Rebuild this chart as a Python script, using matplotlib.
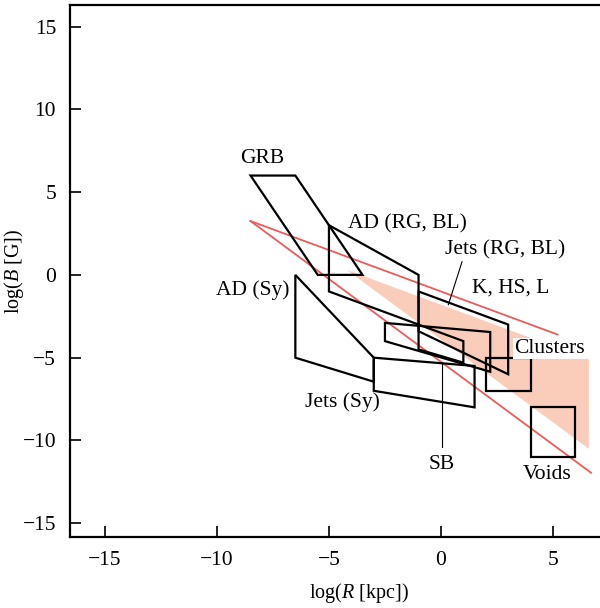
import numpy as np
import matplotlib.pyplot as plt
from matplotlib.patches import Polygon

plt.rcParams['font.family'] = ['Liberation Serif', 'DejaVu Serif']
plt.rcParams['mathtext.fontset'] = 'custom'
plt.rcParams['mathtext.rm'] = 'Liberation Serif'
plt.rcParams['mathtext.it'] = 'Liberation Serif:italic'

# regioner i (log R, log B)
grb_r = [-8.5, -6.5, -3.5, -5.5]
grb_b = [6, 6, 0, 0]
ad_rgbl_r = [-5, -1, -1, 1, 1, -5]
ad_rgbl_b = [3, 0, -4.5, -5.3, -4.0, -1]
ad_sy_r = [-6.5, -3, -3, -6.5]
ad_sy_b = [0, -5, -6.45, -5]
jets_sy_r = [-3, 1.5, 1.5, -3]
jets_sy_b = [-5, -5.5, -8, -7]
jets_rgbl_r = [-1, 3, 3, -1]
jets_rgbl_b = [-1, -3, -6, -3.4]
sb_r = [-2.5, 2.2, 2.2, -2.5]
sb_b = [-2.9, -3.45, -5.85, -4]
clusters_r = [2, 4, 4, 2]
clusters_b = [-5, -5, -7, -7]
voids_r = [4, 6, 6, 4]
voids_b = [-8, -8, -11, -11]
khsl_r = [-4.2, 6.6, 6.6]
khsl_b = [0.3, -5.1, -10.5]

# Hillas-linjer
linje1_r = [-8.5, 5.2]
linje1_b = [3.25, -3.6]
linje2_r = [-8.5, 6.7]
linje2_b = [3.25, -11.95]

fig = plt.figure(figsize=(6, 6.08), dpi=100)
ax = fig.add_axes([70 / 600, 71 / 608, 530 / 600, 532 / 608])

ax.add_patch(Polygon(np.column_stack([khsl_r, khsl_b]), closed=True,
                     facecolor='#f9cdb9', edgecolor='none', zorder=1))
ax.plot(linje1_r, linje1_b, color='#f05a5a', lw=1.3, zorder=2)
ax.plot(linje2_r, linje2_b, color='#f05a5a', lw=1.3, zorder=2)

for r, b in [(grb_r, grb_b), (ad_rgbl_r, ad_rgbl_b), (ad_sy_r, ad_sy_b),
             (jets_sy_r, jets_sy_b), (jets_rgbl_r, jets_rgbl_b),
             (sb_r, sb_b), (clusters_r, clusters_b), (voids_r, voids_b)]:
    ax.add_patch(Polygon(np.column_stack([r, b]), closed=True, fill=False,
                         edgecolor='black', lw=1.6, zorder=3))

fs = 15.5
ax.text(-8.0, 7.0, 'GRB', fontsize=fs, ha='center', va='center')
ax.text(-1.5, 3.1, 'AD (RG, BL)', fontsize=fs, ha='center', va='center')
ax.text(2.86, 1.5, 'Jets (RG, BL)', fontsize=fs, ha='center', va='center')
ax.text(3.1, -0.8, 'K, HS, L', fontsize=fs, ha='center', va='center')
ax.text(-8.4, -0.9, 'AD (Sy)', fontsize=fs, ha='center', va='center')
ax.text(4.85, -4.45, 'Clusters', fontsize=fs, ha='center', va='center', zorder=4,
        bbox=dict(facecolor='white', edgecolor='none', pad=1))
ax.text(-4.4, -7.7, 'Jets (Sy)', fontsize=fs, ha='center', va='center')
ax.text(0.05, -11.45, 'SB', fontsize=fs, ha='center', va='center')
ax.text(4.75, -12.05, 'Voids', fontsize=fs, ha='center', va='center')

ax.plot([0.94, 0.33], [0.79, -1.8], color='black', lw=0.8)
ax.plot([0.05, 0.05], [-5.3, -10.4], color='black', lw=0.8)

ax.set_xlim(-16.56, 7.1)
ax.set_ylim(-15.83, 16.3)
ax.set_xticks([-15, -10, -5, 0, 5])
ax.set_yticks([-15, -10, -5, 0, 5, 10, 15])
ax.tick_params(direction='in', length=8, width=1.2, labelsize=fs, pad=10)
for s in ['left', 'bottom', 'top']:
    ax.spines[s].set_linewidth(1.6)
ax.spines['right'].set_visible(False)
ax.set_xlabel(r'log($R$ [kpc])', fontsize=14.5)
ax.set_ylabel(r'log($B$ [G])', fontsize=14.5)
ax.xaxis.set_label_coords(0.545, -0.083)
ax.yaxis.set_label_coords(-0.083, 0.5)

plt.savefig('out.png', dpi=100)
